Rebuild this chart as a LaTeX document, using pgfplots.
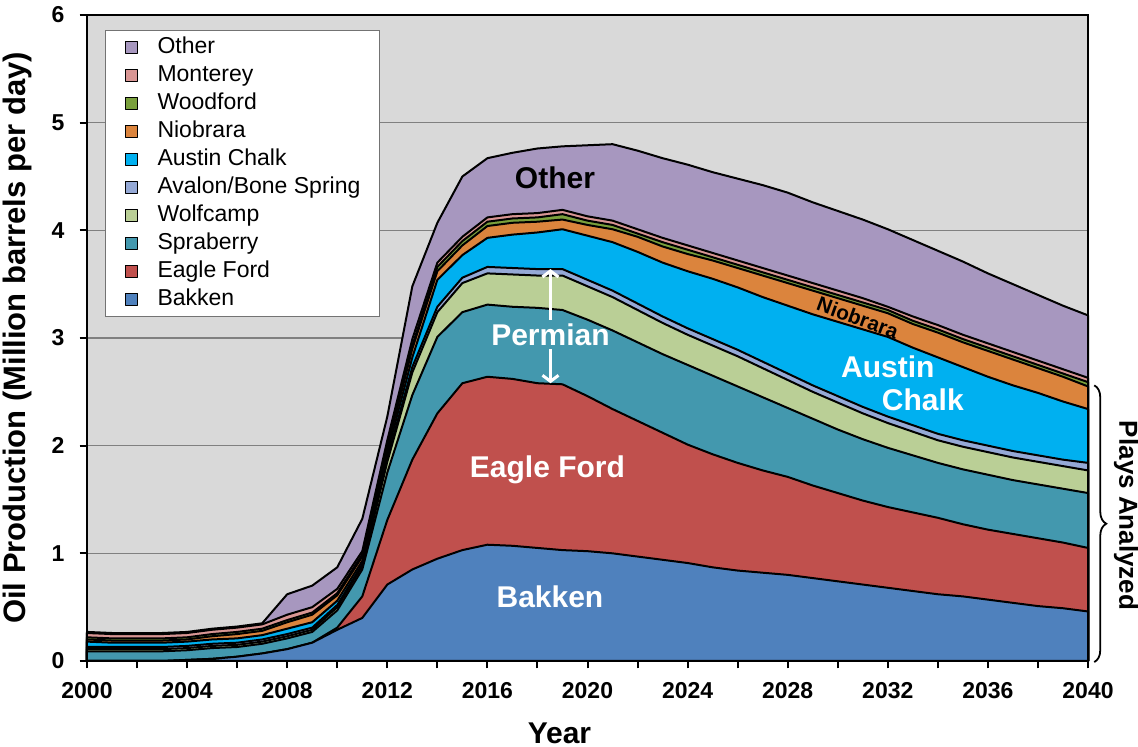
\documentclass[border=0pt]{standalone}
\usepackage{fontspec}
\setmainfont{Liberation Sans}
\usepackage{pgfplots}
\pgfplotsset{compat=1.18}
\usepackage{pgfplotstable}
\usetikzlibrary{decorations.pathreplacing,arrows.meta}

\definecolor{cOther}{RGB}{167,151,191}
\definecolor{cMonterey}{RGB}{217,150,148}
\definecolor{cWoodford}{RGB}{122,160,60}
\definecolor{cNiobrara}{RGB}{219,132,61}
\definecolor{cAustin}{RGB}{0,176,240}
\definecolor{cAvalon}{RGB}{149,169,214}
\definecolor{cWolfcamp}{RGB}{186,207,150}
\definecolor{cSpraberry}{RGB}{67,152,174}
\definecolor{cEagle}{RGB}{192,80,77}
\definecolor{cBakken}{RGB}{79,129,189}
\definecolor{bgGray}{RGB}{217,217,217}

% cumulative tops of the stacked layers (million barrels per day)
\pgfplotstableread{
Year B    E    S    W    A    C    N    F    M    O
2000 0.00 0.00 0.09 0.11 0.13 0.18 0.20 0.22 0.26 0.27
2001 0.00 0.00 0.09 0.11 0.13 0.17 0.19 0.21 0.25 0.26
2002 0.00 0.00 0.09 0.11 0.13 0.17 0.19 0.21 0.25 0.26
2003 0.00 0.00 0.09 0.11 0.13 0.17 0.19 0.21 0.25 0.26
2004 0.01 0.01 0.10 0.12 0.14 0.18 0.20 0.22 0.26 0.27
2005 0.02 0.02 0.12 0.14 0.16 0.20 0.23 0.25 0.29 0.30
2006 0.04 0.04 0.13 0.15 0.17 0.21 0.25 0.27 0.31 0.32
2007 0.07 0.07 0.16 0.18 0.20 0.24 0.28 0.30 0.34 0.35
2008 0.11 0.11 0.21 0.23 0.25 0.30 0.36 0.38 0.43 0.62
2009 0.17 0.17 0.27 0.29 0.31 0.36 0.43 0.45 0.50 0.70
2010 0.29 0.31 0.47 0.50 0.52 0.56 0.61 0.63 0.67 0.87
2011 0.40 0.60 0.85 0.88 0.90 0.93 0.97 0.99 1.02 1.32
2012 0.71 1.31 1.75 1.85 1.88 1.93 1.98 2.01 2.05 2.27
2013 0.85 1.87 2.47 2.68 2.73 2.82 2.90 2.93 2.99 3.48
2014 0.95 2.30 3.01 3.24 3.29 3.54 3.62 3.66 3.70 4.07
2015 1.03 2.58 3.24 3.51 3.56 3.77 3.86 3.90 3.94 4.50
2016 1.08 2.64 3.31 3.60 3.66 3.93 4.04 4.08 4.12 4.67
2017 1.07 2.62 3.29 3.59 3.65 3.96 4.07 4.11 4.15 4.72
2018 1.05 2.58 3.28 3.58 3.64 3.98 4.08 4.12 4.16 4.76
2019 1.03 2.57 3.26 3.58 3.64 4.01 4.10 4.15 4.19 4.78
2020 1.02 2.46 3.17 3.48 3.54 3.95 4.05 4.09 4.13 4.79
2021 1.00 2.34 3.07 3.38 3.44 3.89 4.01 4.05 4.09 4.80
2022 0.97 2.23 2.96 3.26 3.32 3.80 3.94 3.97 4.01 4.74
2023 0.94 2.12 2.85 3.14 3.20 3.70 3.85 3.89 3.93 4.67
2024 0.91 2.01 2.75 3.03 3.09 3.62 3.78 3.82 3.86 4.61
2025 0.87 1.92 2.65 2.93 2.99 3.55 3.72 3.75 3.79 4.54
2026 0.84 1.84 2.55 2.83 2.89 3.47 3.65 3.68 3.72 4.48
2027 0.82 1.77 2.45 2.72 2.78 3.38 3.58 3.61 3.65 4.42
2028 0.80 1.71 2.35 2.61 2.67 3.30 3.51 3.54 3.58 4.35
2029 0.77 1.63 2.25 2.50 2.56 3.22 3.44 3.47 3.51 4.26
2030 0.74 1.56 2.15 2.40 2.46 3.15 3.37 3.40 3.44 4.18
2031 0.71 1.49 2.06 2.30 2.36 3.08 3.30 3.33 3.37 4.10
2032 0.68 1.43 1.98 2.21 2.27 3.01 3.23 3.26 3.29 4.01
2033 0.65 1.38 1.91 2.13 2.19 2.91 3.13 3.16 3.20 3.91
2034 0.62 1.33 1.84 2.05 2.11 2.82 3.05 3.08 3.12 3.81
2035 0.60 1.27 1.78 1.99 2.05 2.73 2.96 2.99 3.03 3.71
2036 0.57 1.22 1.73 1.94 2.00 2.64 2.88 2.91 2.95 3.60
2037 0.54 1.18 1.68 1.89 1.95 2.56 2.80 2.83 2.87 3.50
2038 0.51 1.14 1.64 1.85 1.91 2.49 2.72 2.75 2.79 3.40
2039 0.49 1.10 1.60 1.81 1.87 2.41 2.64 2.67 2.71 3.30
2040 0.46 1.05 1.56 1.77 1.84 2.34 2.55 2.59 2.63 3.21
}\dataT

\begin{document}
\begin{tikzpicture}
\begin{axis}[
  scale only axis, width=500.5pt, height=323pt,
  xmin=2000, xmax=2040, ymin=0, ymax=6,
  clip=false,
  axis background/.style={fill=bgGray},
  axis line style={line width=1.2pt, black},
  ymajorgrids, grid style={line width=0.6pt, color=black!50},
  tick style={black, line width=1pt},
  tick align=outside,
  major tick length=3.75pt, minor tick length=2pt,
  xtick pos=bottom, ytick pos=left,
  xtick={2000,2002,...,2040},
  xticklabels={2000,,2004,,2008,,2012,,2016,,2020,,2024,,2028,,2032,,2036,,2040},
  minor x tick num=1,
  ytick={0,1,2,3,4,5,6},
  yticklabels={0,1,2,3,4,5,6},
  ticklabel style={font=\bfseries\fontsize{11.5}{13}\selectfont},
  xticklabel style={yshift=-3.4pt},
  yticklabel style={xshift=-4pt},
  xlabel={Year},
  ylabel={Oil Production (Million barrels per day)},
  every axis x label/.style={at={(axis description cs:0.472,-0.1115)}, anchor=center,
    font=\bfseries\fontsize{15}{18}\selectfont},
  every axis y label/.style={at={(axis description cs:-0.0699,0.5)}, rotate=90, anchor=center,
    font=\bfseries\fontsize{15.5}{18}\selectfont},
  legend image code/.code={\draw[#1,draw=black,line width=0.7pt] (0pt,-3pt) rectangle (6pt,3pt); \path (0pt,0pt) (15.5pt,0pt);},
  legend style={at={(axis description cs:0.018,0.977)}, anchor=north west,
    draw=black!55, line width=0.5pt, fill=white,
    font=\fontsize{11.5}{13}\selectfont,
    inner xsep=9.5pt, inner ysep=3pt, row sep=3pt,
    nodes={inner xsep=0pt, inner ysep=0pt, text height=8.5pt, text depth=2.5pt},
    cells={anchor=west}},
  every axis plot/.append style={draw=black, line width=1pt, line join=round},
]
\addplot[fill=cOther] table[x=Year,y=O]{\dataT} \closedcycle;
\addlegendentry{Other}
\addplot[fill=cMonterey] table[x=Year,y=M]{\dataT} \closedcycle;
\addlegendentry{Monterey}
\addplot[fill=cWoodford] table[x=Year,y=F]{\dataT} \closedcycle;
\addlegendentry{Woodford}
\addplot[fill=cNiobrara] table[x=Year,y=N]{\dataT} \closedcycle;
\addlegendentry{Niobrara}
\addplot[fill=cAustin] table[x=Year,y=C]{\dataT} \closedcycle;
\addlegendentry{Austin Chalk}
\addplot[fill=cAvalon] table[x=Year,y=A]{\dataT} \closedcycle;
\addlegendentry{Avalon/Bone Spring}
\addplot[fill=cWolfcamp] table[x=Year,y=W]{\dataT} \closedcycle;
\addlegendentry{Wolfcamp}
\addplot[fill=cSpraberry] table[x=Year,y=S]{\dataT} \closedcycle;
\addlegendentry{Spraberry}
\addplot[fill=cEagle] table[x=Year,y=E]{\dataT} \closedcycle;
\addlegendentry{Eagle Ford}
\addplot[fill=cBakken] table[x=Year,y=B]{\dataT} \closedcycle;
\addlegendentry{Bakken}

\node[font=\bfseries\fontsize{15}{18}\selectfont] at (axis cs:2018.7,4.49) {Other};
\node[white,font=\bfseries\fontsize{15}{18}\selectfont] at (axis cs:2018.52,3.03) {Permian};
\draw[white, line width=1.5pt, -{Straight Barb[length=3pt,width=8pt]}] (axis cs:2018.52,3.17) -- (axis cs:2018.52,3.64);
\draw[white, line width=1.5pt, -{Straight Barb[length=3pt,width=8pt]}] (axis cs:2018.52,2.90) -- (axis cs:2018.52,2.58);
\node[white,font=\bfseries\fontsize{15}{18}\selectfont] at (axis cs:2018.4,1.78) {Eagle Ford};
\node[white,font=\bfseries\fontsize{15}{18}\selectfont] at (axis cs:2018.5,0.60) {Bakken};
\node[white,font=\bfseries\fontsize{15}{18}\selectfont] at (axis cs:2032.0,2.73) {Austin};
\node[white,font=\bfseries\fontsize{15}{18}\selectfont] at (axis cs:2033.4,2.43) {Chalk};
\node[rotate=-20,font=\bfseries\fontsize{10.3}{12}\selectfont] at (axis cs:2030.8,3.19) {Niobrara};
\draw[line width=0.9pt, decorate, decoration={brace, amplitude=6pt}] (axis cs:2040.25,2.56) -- (axis cs:2040.25,-0.01);
\node[rotate=-90,font=\bfseries\fontsize{13}{15}\selectfont] at (axis cs:2041.52,1.35) {Plays Analyzed};

\path (rel axis cs:0,0) ++(-43.5pt,-43pt) coordinate (bbsw);
\path (rel axis cs:1,1) ++(25pt,7.5pt) coordinate (bbne);
\end{axis}
\pgfresetboundingbox
\path[use as bounding box] (bbsw) rectangle (bbne);
\end{tikzpicture}
\end{document}
